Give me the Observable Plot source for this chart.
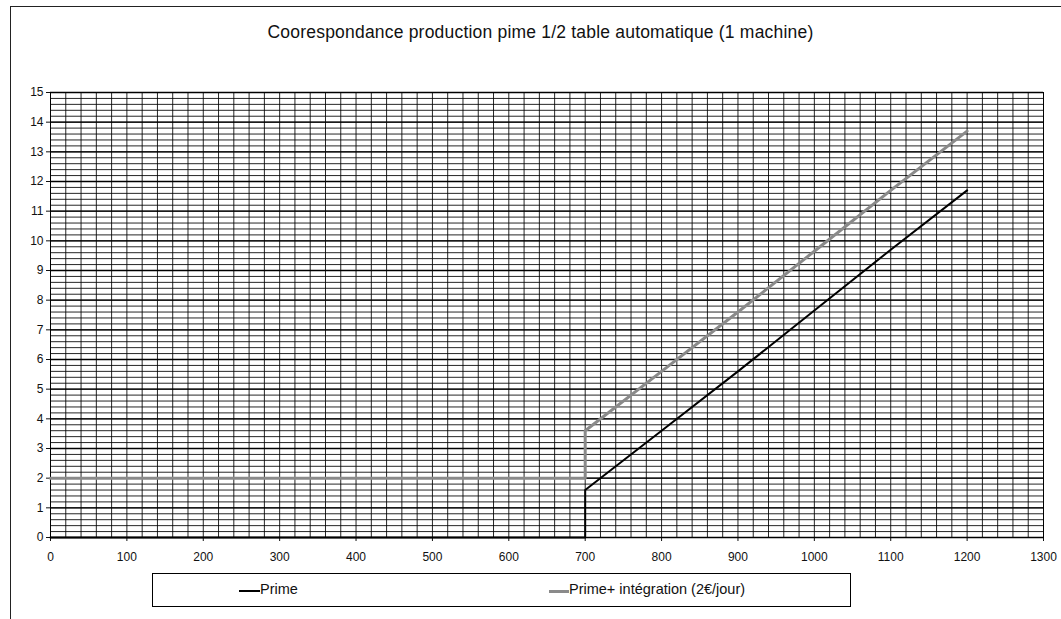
<!DOCTYPE html>
<html><head><meta charset="utf-8">
<script src="https://cdn.jsdelivr.net/npm/d3@7"></script>
<script src="https://cdn.jsdelivr.net/npm/@observablehq/plot@0.6"></script>
<style>
body{margin:0;background:#fff;font-family:"Liberation Sans",Arial,sans-serif;}
#wrap{position:relative;width:1061px;height:619px;overflow:hidden;background:#fff;}
#frame{position:absolute;left:10px;top:6px;right:-2px;bottom:-2px;border-left:1px solid #222;border-top:1px solid #222;}
#title{position:absolute;top:22px;left:10px;width:1061px;text-align:center;font-size:17.5px;color:#111;letter-spacing:0.2px;}
#chart{position:absolute;top:70px;left:0;}
#legend{position:absolute;left:152px;top:573px;width:697px;height:32px;border:1px solid #000;font-size:14.5px;color:#111;}
.sw{position:absolute;top:16px;height:0;}
.lt{position:absolute;top:7px;}
</style></head>
<body>
<div id="wrap">
  <div id="frame"></div>
  <div id="title">Coorespondance production pime 1/2 table automatique (1 machine)</div>
  <div id="chart"></div>
  <div id="legend">
    <div class="sw" style="left:86px;width:21px;border-top:2px solid #000;"></div>
    <div class="lt" style="left:107px;">Prime</div>
    <div class="sw" style="left:396px;width:20px;border-top:3px solid #8a8a8a;"></div>
    <div class="lt" style="left:416px;">Prime+ intégration (2€/jour)</div>
  </div>
</div>
<script>
// Data
const xValues = [0, 700, 700, 800, 900, 1000, 1100, 1200];
const primeValues = [0, 0, 1.6, 3.6, 5.6, 7.65, 9.7, 11.7];
const primeIntegrationValues = [2, 2, 3.6, 5.6, 7.6, 9.65, 11.7, 13.7];
const xTicks = [0,100,200,300,400,500,600,700,800,900,1000,1100,1200,1300];
const yTicks = [0,1,2,3,4,5,6,7,8,9,10,11,12,13,14,15];
const xGrid = d3.range(0, 66).map(i => i * 20);
const yGrid = d3.range(0, 76).map(i => i / 5);

const prime = xValues.map((x, i) => ({x, y: primeValues[i]}));
const primeInt = xValues.map((x, i) => ({x, y: primeIntegrationValues[i]}));

const chart = Plot.plot({
  width: 1061,
  height: 500,
  marginLeft: 50,
  marginRight: 18,
  marginTop: 22,
  marginBottom: 33,
  style: {fontFamily: "Liberation Sans, Arial, sans-serif", fontSize: "12px", color: "#111", background: "transparent"},
  x: {domain: [0, 1300], ticks: xTicks, tickSize: 4, tickPadding: 11, label: null, tickFormat: d => String(d)},
  y: {domain: [0, 15], ticks: yTicks, tickSize: 4, tickPadding: 3, label: null},
  marks: [
    Plot.ruleX(xGrid, {stroke: "#000", strokeWidth: 1, strokeOpacity: 0.85}),
    Plot.ruleY(yGrid, {stroke: "#000", strokeWidth: 1, strokeOpacity: 0.85}),
    Plot.ruleY(yTicks, {stroke: "#000", strokeWidth: 1.3}),
    Plot.frame({stroke: "#000"}),
    Plot.line(primeInt, {x: "x", y: "y", stroke: "#8a8a8a", strokeWidth: 3}),
    Plot.line(prime, {x: "x", y: "y", stroke: "#000", strokeWidth: 2})
  ]
});
document.getElementById("chart").appendChild(chart);
</script>
</body></html>
